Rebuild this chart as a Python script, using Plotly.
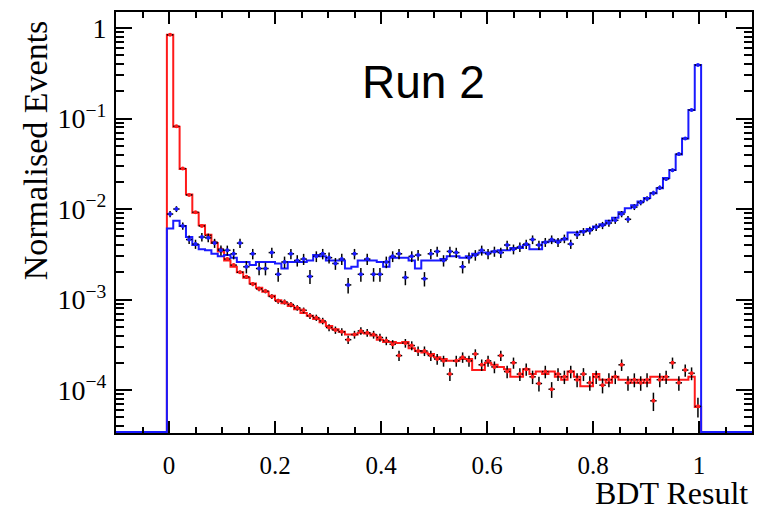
import numpy as np
import plotly.graph_objects as go

# Binning of the BDT response histograms
BIN_LO = -0.004
BIN_W = 0.012
N_BINS = 84

# Normalised simulated distributions (one value per bin)
red_mc = [
    0.84, 0.081, 0.0276, 0.0145, 0.0091, 0.0066, 0.0052, 0.0042, 0.0034, 0.0027,
    0.0023, 0.0020, 0.00174, 0.0015, 0.00135, 0.00122, 0.0011, 0.00098, 0.00091, 0.00085,
    0.00078, 0.00071, 0.00066, 0.00061, 0.00056, 0.00051, 0.00047, 0.00044, 0.00041, 0.00041,
    0.00043, 0.00042, 0.00040, 0.00036, 0.00034, 0.00034, 0.00033, 0.00034, 0.00029, 0.00027,
    0.00026, 0.00025, 0.00023, 0.00022, 0.00021, 0.00021, 0.00022, 0.00022, 0.000166, 0.000166,
    0.00020, 0.00019, 0.00018, 0.00017, 0.00014, 0.00014, 0.00017, 0.00015, 0.00016, 0.00015,
    0.00016, 0.00014, 0.00013, 0.00016, 0.00014, 0.00011, 0.00011, 0.00015, 0.00013, 0.00012,
    0.00014, 0.00013, 0.00013, 0.00012, 0.00013, 0.00012, 0.00014, 0.00014, 0.00013, 0.00013,
    0.00013, 0.00013, 0.00014, 0.000065,
]
blue_mc = [
    0.0061, 0.0074, 0.0065, 0.0049, 0.0040, 0.0036, 0.0035, 0.0032, 0.0030, 0.0031,
    0.0029, 0.0026, 0.0026, 0.0024, 0.0026, 0.0026, 0.0026, 0.0025, 0.0022, 0.0026,
    0.0026, 0.0026, 0.0027, 0.0031, 0.0030, 0.0027, 0.0027, 0.0027, 0.0022, 0.0023,
    0.0027, 0.0027, 0.0027, 0.0026, 0.0023, 0.0029, 0.0029, 0.0029, 0.0027, 0.0022,
    0.0027, 0.0027, 0.0027, 0.0028, 0.0030, 0.0030, 0.0029, 0.0030, 0.0032, 0.0033,
    0.0033, 0.0034, 0.0035, 0.0035, 0.0037, 0.0037, 0.0040, 0.0036, 0.0036, 0.0043,
    0.0044, 0.0045, 0.0046, 0.0055, 0.0055, 0.0057, 0.0060, 0.0064, 0.0068, 0.0074,
    0.0080, 0.0092, 0.0102, 0.0110, 0.0121, 0.0132, 0.0149, 0.0170, 0.0220, 0.0270,
    0.0400, 0.0600, 0.124, 0.39,
]

# Normalised data (one value per bin)
red_data = [
    0.84, 0.082, 0.028, 0.0143, 0.0092, 0.0065, 0.0051, 0.0043, 0.0036, 0.0028,
    0.0024, 0.0020, 0.00178, 0.00148, 0.00131, 0.00124, 0.00108, 0.00096, 0.00094, 0.00088,
    0.00081, 0.00076, 0.00066, 0.00063, 0.00058, 0.00049, 0.00046, 0.00044, 0.00036, 0.00041,
    0.00045, 0.00043, 0.00041, 0.00038, 0.00035, 0.00032, 0.00024, 0.00033, 0.00031, 0.00027,
    0.00027, 0.00024, 0.00022, 0.00021, 0.000150, 0.00021, 0.00023, 0.00021, 0.00025, 0.00019,
    0.00021, 0.00018, 0.00024, 0.00016, 0.00020, 0.00015, 0.00017, 0.00014, 0.000118, 0.00016,
    0.000102, 0.00015, 0.00014, 0.00016, 0.00013, 0.00015, 0.00012, 0.00014, 0.000113, 0.00013,
    0.00014, 0.00019, 0.00012, 0.00013, 0.00012, 0.00013, 0.000076, 0.00013, 0.00014, 0.00020,
    0.00012, 0.000166, 0.000153, 0.000066,
]
blue_data = [
    0.0088, 0.0100, 0.0065, 0.0046, 0.0041, 0.0049, 0.0048, 0.0042, 0.0035, 0.0035,
    0.0032, 0.0042, 0.0023, 0.0032, 0.0022, 0.0022, 0.0033, 0.0019, 0.0026, 0.0032,
    0.0027, 0.0028, 0.0018, 0.0030, 0.0032, 0.0029, 0.0025, 0.0028, 0.00145, 0.0032,
    0.0019, 0.0028, 0.0019, 0.0019, 0.0026, 0.0030, 0.0032, 0.00175, 0.0030, 0.0031,
    0.0017, 0.0032, 0.0034, 0.0027, 0.0034, 0.0033, 0.0023, 0.0029, 0.0031, 0.0035,
    0.0032, 0.0034, 0.0033, 0.0040, 0.0036, 0.0038, 0.0041, 0.0046, 0.0040, 0.0043,
    0.0046, 0.0043, 0.0047, 0.0041, 0.0052, 0.0056, 0.0058, 0.0063, 0.0066, 0.0070,
    0.0075, 0.0088, 0.0077, 0.0105, 0.0118, 0.0130, 0.0150, 0.0172, 0.0215, 0.0268,
    0.0405, 0.060, 0.124, 0.39,
]

# Effective sample sizes used for the statistical uncertainties
N_RED = 250000
N_BLUE = 18000

X_MIN, X_MAX = -0.1, 1.1
Y_LOG_MIN, Y_LOG_MAX = -4.475, 0.177

x_ticks = [0, 0.2, 0.4, 0.6, 0.8, 1]
x_ticktext = ["0", "0.2", "0.4", "0.6", "0.8", "1"]
y_ticks = [1e-4, 1e-3, 1e-2, 1e-1, 1]
y_ticktext = ["10<sup>−4</sup>", "10<sup>−3</sup>", "10<sup>−2</sup>", "10<sup>−1</sup>", "1"]

edges = BIN_LO + BIN_W * np.arange(N_BINS + 1)
centers = edges[:-1] + BIN_W / 2
floor = 10 ** (Y_LOG_MIN + 0.012)


def step_path(values):
    xs = [X_MIN] + list(edges) + [X_MAX]
    ys = [floor] + list(values) + [floor, floor]
    return xs, ys


def data_trace(values, n_eff, colour):
    v = np.array(values)
    err = np.sqrt(v / n_eff)
    return go.Scatter(
        x=centers, y=v, mode="markers",
        marker=dict(color=colour, size=4, symbol="circle"),
        error_y=dict(type="data", array=err, color="black", thickness=1.5, width=0),
        error_x=dict(type="constant", value=BIN_W / 2, color="black", thickness=1.5, width=0),
        showlegend=False, hoverinfo="skip",
    )


fig = go.Figure()
rx, ry = step_path(red_mc)
fig.add_trace(go.Scatter(x=rx, y=ry, mode="lines", line=dict(color="#ff1a1a", width=2, shape="hv"),
                         showlegend=False, hoverinfo="skip"))
bx, by = step_path(blue_mc)
fig.add_trace(go.Scatter(x=bx, y=by, mode="lines", line=dict(color="#1a1aff", width=2, shape="hv"),
                         showlegend=False, hoverinfo="skip"))
fig.add_trace(data_trace(red_data, N_RED, "#ff1a1a"))
fig.add_trace(data_trace(blue_data, N_BLUE, "#1a1aff"))

serif = "Liberation Serif, Times New Roman, serif"

fig.update_xaxes(
    range=[X_MIN, X_MAX], showline=True, linecolor="black", linewidth=2, mirror="ticks",
    showgrid=False, zeroline=False,
    tickmode="array", tickvals=x_ticks, ticktext=x_ticktext,
    ticks="inside", ticklen=12, tickwidth=1.5, tickcolor="black",
    ticklabelstandoff=9,
    tickfont=dict(family=serif, size=25, color="black"),
    minor=dict(tickmode="linear", tick0=0, dtick=0.05, ticks="inside", ticklen=6,
               tickwidth=1.5, tickcolor="black", showgrid=False),
)
y_minor = [k * 10.0 ** e for e in range(-5, 1) for k in range(2, 10)]
fig.update_yaxes(
    type="log", range=[Y_LOG_MIN, Y_LOG_MAX], showline=True, linecolor="black", linewidth=2,
    mirror="ticks", showgrid=False, zeroline=False,
    tickmode="array", tickvals=y_ticks, ticktext=y_ticktext,
    ticks="inside", ticklen=16, tickwidth=1.5, tickcolor="black",
    ticklabelstandoff=2,
    tickfont=dict(family=serif, size=28, color="black"),
    minor=dict(tickmode="array", tickvals=y_minor, ticks="inside", ticklen=8,
               tickwidth=1.5, tickcolor="black", showgrid=False),
)

fig.update_layout(
    width=757, height=508,
    margin=dict(l=116, r=3, t=12, b=75),
    paper_bgcolor="white", plot_bgcolor="white",
    annotations=[
        dict(text="Run 2", xref="paper", yref="paper", x=0.483, y=0.834,
             xanchor="center", yanchor="middle", showarrow=False,
             font=dict(family="Liberation Sans, Arial, sans-serif", size=46, color="black")),
        dict(text="BDT Result", xref="paper", yref="paper", x=0.997, y=-0.143,
             xanchor="right", yanchor="middle", showarrow=False,
             font=dict(family=serif, size=32, color="black")),
        dict(text="Normalised Events", xref="paper", yref="paper", x=-0.127, y=0.672,
             xanchor="center", yanchor="middle", textangle=-90, showarrow=False,
             font=dict(family=serif, size=34, color="black")),
    ],
)

fig.write_html("out.html")
